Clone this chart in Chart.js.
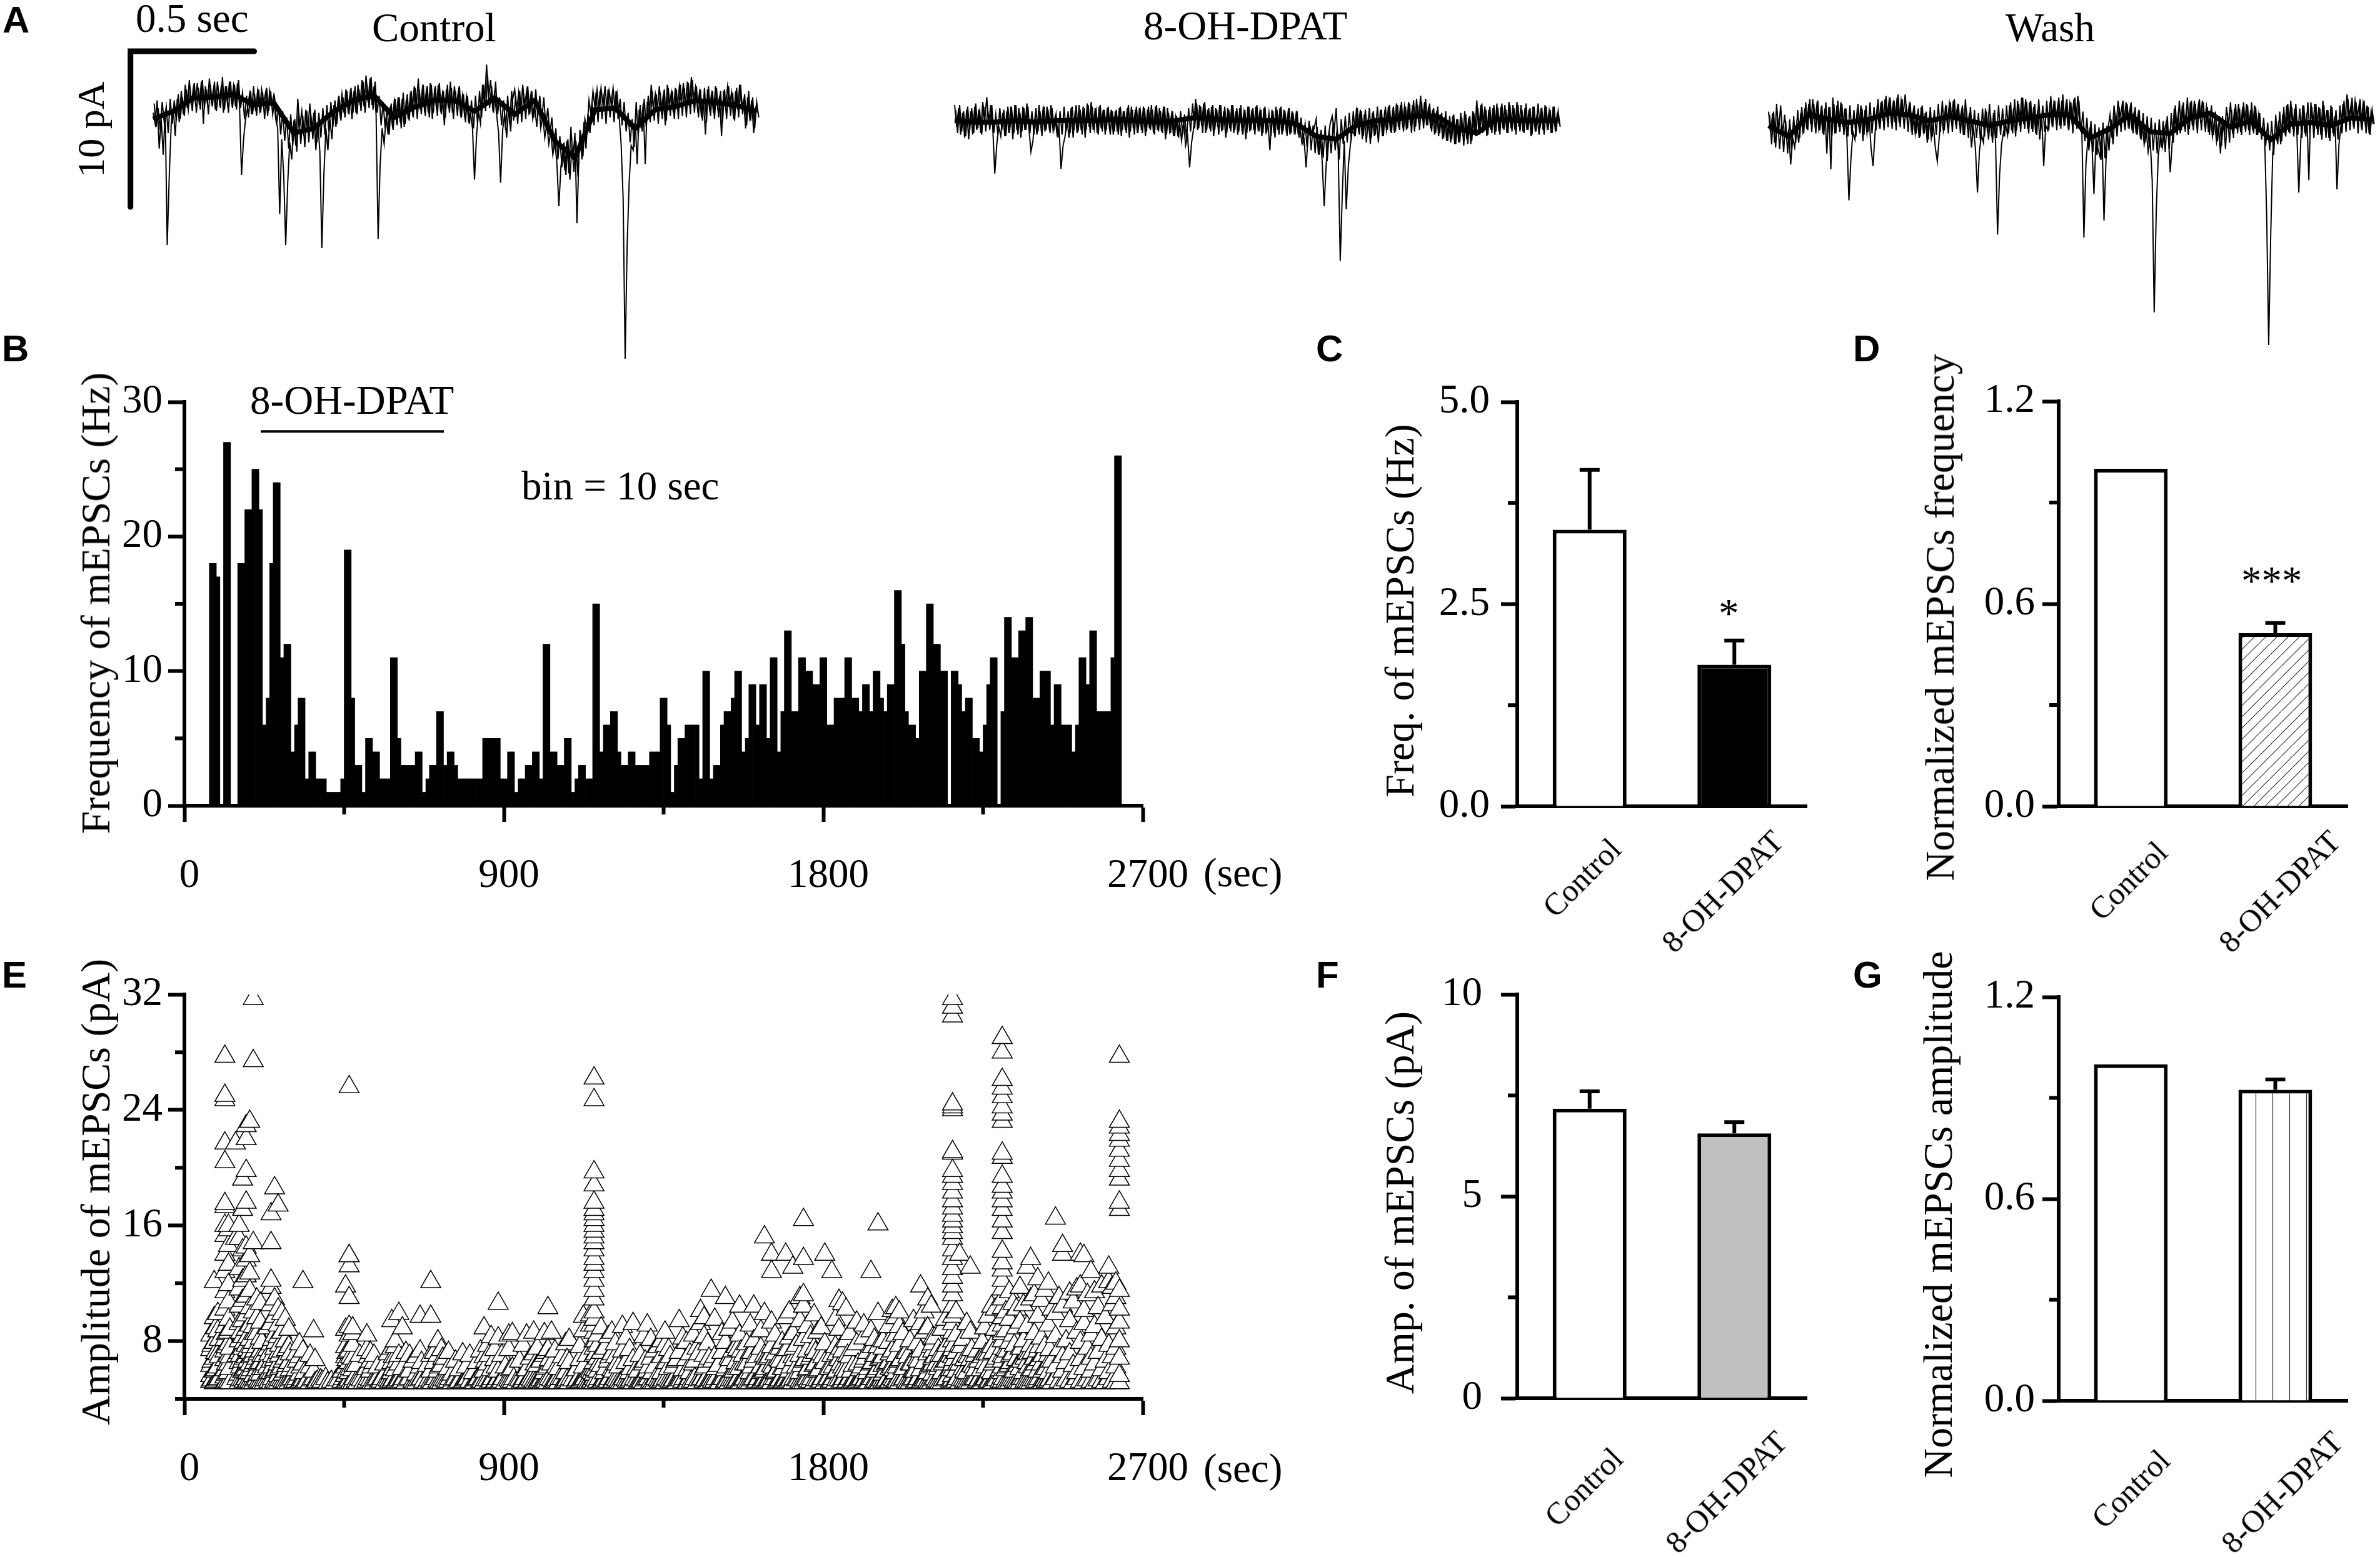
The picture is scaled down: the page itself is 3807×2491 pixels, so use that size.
<!DOCTYPE html>
<html>
<head>
<meta charset="utf-8">
<title>mEPSCs 8-OH-DPAT</title>
<script src="https://cdn.jsdelivr.net/npm/chart.js@4/dist/chart.umd.js"></script>
<style>
html, body { margin: 0; background: #fff; width: 3807px; height: 2491px; overflow: hidden; }
canvas { position: absolute; }
.txt { position: absolute; white-space: nowrap; font-family: "Liberation Serif"; line-height: 1; color: #000; }
</style>
</head>
<body>
<script>
// panel A traces, pA relative to the baseline, one sample every 3.2 px
const controlTrace = [
  -0.5,-1.2,0.3,-2.8,-0.9,-3.2,-0.4,-9.0,-4.6,-1.2,-0.2,-2.0,0.4,-1.1,0.9,-0.6,1.3,-0.2,1.6,0.0,
  1.1,0.2,1.4,0.0,1.5,-1.2,1.2,0.1,1.7,0.2,1.0,-0.3,1.5,0.2,1.3,-0.5,1.2,0.1,1.5,0.2,
  1.2,-0.1,1.4,0.0,-4.5,-2.2,-0.9,-0.2,0.7,-0.6,1.2,-0.4,0.9,-0.3,1.0,0.1,0.8,-0.7,0.9,0.0,
  0.6,-0.9,-1.5,-7.0,-2.2,-4.5,-9.0,-5.0,-2.4,-3.5,-1.0,-2.6,0.4,-1.4,-0.4,-2.0,-0.3,-1.7,0.1,-1.6,
  -0.5,-2.9,-1.2,-3.0,-9.2,-4.5,-1.5,-2.9,-0.9,-2.2,0.0,-1.4,0.2,-0.6,0.7,-0.5,1.0,-0.3,0.7,-0.9,
  0.9,-0.5,1.3,0.0,1.6,-0.1,1.9,0.2,1.7,0.0,1.2,-0.6,-8.6,-3.9,-1.5,-2.5,-0.8,-1.9,-0.1,-1.2,
  0.2,-0.9,0.5,-1.1,0.4,-1.4,0.3,-0.9,0.6,-0.4,1.2,-0.2,1.7,-0.3,1.0,-0.2,0.9,-0.5,1.4,-0.9,
  0.8,-0.1,1.3,-0.2,0.7,-1.3,1.0,-0.2,1.5,-0.5,1.2,0.0,0.9,-0.5,0.6,-0.6,0.5,-1.0,-0.5,-1.5,
  -4.8,-2.0,-0.4,-1.2,1.3,0.0,2.6,0.4,1.6,-0.1,0.8,-0.6,-1.8,-5.0,-1.6,-0.6,-2.1,-0.1,-1.7,0.4,
  1.0,-0.4,0.8,-0.5,1.3,0.0,0.9,-0.4,0.6,-0.9,-0.1,-1.4,0.1,-1.5,-0.7,-2.1,-1.2,-2.5,-1.7,-3.2,
  -2.4,-3.7,-6.5,-4.0,-2.9,-4.2,-2.3,-4.4,-1.4,-3.5,-1.8,-7.6,-3.2,-2.0,-3.3,-0.9,-1.6,0.3,-0.6,0.9,
  -0.2,1.0,-0.3,1.1,0.0,1.2,-0.4,0.9,0.1,1.1,-0.3,0.7,-0.7,-2.5,-6.0,-16.3,-9.0,-5.0,-2.6,-2.9,
  -1.0,-3.8,-0.3,-1.5,0.1,-3.8,0.2,-0.8,1.3,-0.2,0.7,-0.4,1.2,-0.3,0.6,-1.3,1.3,-0.1,0.8,-0.5,
  1.1,-0.2,1.2,0.1,1.4,-0.1,1.5,-0.1,1.8,0.2,1.1,-0.2,0.8,-0.8,0.4,-1.9,1.0,-0.2,0.7,-0.5,
  1.2,-0.1,0.5,-2.0,0.9,-0.1,1.2,0.0,0.8,-0.9,0.9,-0.3,1.3,-0.1,0.3,-1.5,0.5,-0.8,0.3,-1.8,
  -0.2,-0.5
];
const dpatTrace = [
  1.0,-0.4,0.8,-0.9,0.5,-1.1,0.7,-1.2,0.6,-0.9,0.9,-0.6,0.7,-0.8,1.2,0.0,1.5,-0.2,1.0,-0.5,
  -3.4,-1.5,-0.4,-1.0,0.5,-1.0,0.6,-0.8,0.9,-1.2,1.0,-0.6,0.8,-1.1,0.9,-0.6,1.1,-0.5,-2.0,-1.3,
  0.2,-0.9,1.0,-0.4,0.7,-0.7,0.9,-0.3,1.0,-0.6,0.2,-0.9,-0.5,-3.1,-1.6,-1.0,0.0,-1.1,0.8,-1.1,
  0.6,-0.8,1.0,-0.6,0.9,-1.1,1.1,-0.4,1.2,-0.6,0.8,-0.8,0.9,-0.5,0.7,-0.9,0.8,-0.4,0.7,-0.9,
  0.6,-0.7,0.8,-1.0,0.6,-0.6,0.8,-1.1,0.9,-0.5,0.7,-0.8,0.8,-0.6,0.9,-1.0,0.7,-0.5,1.0,-0.8,
  0.9,-0.6,0.8,-0.7,0.9,-1.2,0.8,-0.6,0.4,-1.0,0.2,-0.8,-0.1,-1.3,0.0,-1.6,-1.0,-3.0,-1.4,-0.5,
  1.4,-0.6,1.0,-0.3,1.1,-0.8,0.7,-0.5,0.9,-1.0,0.8,-0.4,1.0,-0.7,0.6,-1.1,0.8,-0.5,1.0,-0.8,
  0.6,-0.9,0.8,-0.5,0.5,-1.2,0.9,-0.7,0.7,-0.6,0.9,-0.4,0.6,-1.0,0.8,-0.7,-0.2,-1.9,0.7,-0.8,
  0.9,-0.6,0.8,-0.9,0.7,-0.5,0.5,-0.9,0.6,-0.6,0.4,-0.8,-0.6,-1.5,-1.2,-3.0,-1.0,-0.4,-0.9,-0.5,
  0.1,-1.9,-1.0,-2.6,-5.5,-2.8,-1.1,-0.2,0.3,-0.6,0.8,-2.0,-9.0,-4.8,-1.3,-5.7,-3.0,-1.6,-0.6,-0.9,
  0.6,-0.5,0.7,-1.2,0.4,-1.4,0.2,-1.5,0.5,-1.0,0.2,-1.4,0.7,-1.0,0.4,-0.6,0.9,-0.7,0.5,-0.8,
  1.1,-0.4,1.0,-0.2,0.9,-0.6,1.2,-0.3,1.0,-0.7,1.4,-0.1,1.6,0.0,1.2,-0.3,0.9,-0.5,0.7,-0.9,
  0.6,-1.0,0.4,-1.2,0.2,-1.3,0.0,-1.4,0.3,-1.5,0.1,-1.4,0.5,-1.0,0.6,-1.2,0.2,-1.5,0.6,-0.8,
  1.3,-0.7,1.0,-0.8,0.9,-1.0,0.7,-0.6,0.8,-0.9,1.1,-0.7,0.9,-0.5,1.0,-0.8,1.2,-0.5,1.0,-0.6,
  1.2,-0.4,1.0,-0.7,0.8,-0.6,0.7,-1.0,0.9,-0.5,0.4,-0.9,0.8,-0.6,1.0,-0.4,0.6,-0.8,0.9,-0.5,
  0.4,-0.2
];
const washTrace = [
  0.5,-0.9,0.4,-1.5,1.0,-0.8,0.9,-1.0,0.3,-1.2,-0.7,-2.9,-1.2,-1.8,-0.4,-1.5,0.4,-0.7,0.7,-0.6,
  1.0,-0.3,1.3,-0.2,0.9,-0.6,0.5,-0.9,0.7,-2.2,0.8,-3.2,1.4,-0.9,0.9,-0.5,1.1,-0.5,0.7,-1.2,
  -5.2,-2.5,-0.8,-1.3,0.4,-0.5,0.9,-1.4,0.6,-0.9,0.2,-1.8,-3.0,-0.9,0.7,-0.3,1.1,-0.1,1.3,0.1,
  1.2,0.0,1.0,-0.2,1.4,-0.2,1.2,0.2,1.6,0.0,0.9,-0.5,0.5,-0.9,0.2,-1.2,0.8,-0.7,0.4,-1.5,
  0.2,-1.2,-0.3,-1.8,-2.7,-1.1,0.3,-0.7,0.7,-0.3,1.0,-0.2,1.2,-0.1,0.8,-0.2,0.5,-1.0,1.3,-0.6,
  0.4,-1.8,-0.5,-1.9,-4.7,-2.0,-1.0,-1.5,0.7,-0.8,1.0,-1.1,0.4,-1.4,-7.4,-3.6,-1.6,-0.8,-0.3,-1.0,
  0.9,-0.7,0.7,-1.1,1.2,-0.4,1.4,-0.3,1.3,-0.6,1.1,-0.6,0.8,-0.9,0.6,-1.3,0.2,-3.0,-0.4,-0.7,
  0.8,-0.2,1.0,0.0,0.9,-0.4,1.2,-0.2,0.9,-0.3,1.0,-0.1,1.3,0.0,1.5,-0.3,-0.9,-7.6,-2.9,-1.2,
  -0.6,-1.6,-4.8,-1.3,-1.9,-2.4,-1.0,-6.5,-2.6,-0.6,0.3,-1.2,0.9,-0.5,1.2,0.1,0.9,-0.2,1.1,-0.3,
  0.7,-0.7,0.5,-0.9,0.3,-1.0,-0.2,-1.6,-0.7,-2.1,-1.3,-3.9,-12.4,-6.0,-2.4,-1.2,-1.8,-0.8,-0.2,-1.0,
  -3.4,-1.4,0.7,-0.7,0.4,-0.9,0.9,-0.4,0.5,-1.0,1.1,-0.4,1.2,-0.2,0.9,0.0,1.2,-0.2,0.8,-0.8,
  0.3,-1.1,-0.1,-1.4,-0.3,-2.2,0.2,-1.0,0.8,-0.5,1.1,-0.9,0.7,-0.6,1.0,-0.8,0.8,-0.3,1.0,-0.7,
  0.6,-0.7,0.9,-1.0,0.3,-0.8,-0.5,-1.2,-6.2,-14.5,-7.5,-2.2,-0.9,-1.3,-0.1,-1.6,0.3,-0.7,0.9,-0.8,
  1.2,-0.6,0.7,-0.7,-4.7,-1.3,0.9,-0.9,0.4,-3.9,1.1,-0.4,1.0,-0.6,0.8,-1.0,1.2,-0.4,0.6,-1.2,
  0.9,-0.9,0.2,-4.5,-1.6,-0.4,1.0,-0.2,1.6,0.1,0.9,-0.2,1.2,0.1,0.9,-0.3,1.0,-0.2,0.9,-0.9,
  0.5,-0.3
];
// the noise band between those samples, half a sample later
const controlFuzz = [
  0.1,-1.4,-0.2,-1.6,0.2,-1.1,-0.1,-1.8,0.4,-1.2,0.3,-1.0,0.7,-0.9,0.5,-0.7,1.0,-0.3,0.9,-0.4,
  1.4,-0.5,1.1,-0.3,1.6,-0.2,1.0,-0.6,1.3,-0.1,1.5,-0.4,0.9,-0.2,1.8,-0.3,1.2,-0.5,1.5,-0.2,
  1.3,-0.3,1.6,-0.2,0.8,-0.9,0.6,-0.8,0.9,-0.6,0.7,-0.7,1.0,-0.5,0.8,-0.9,1.1,-0.4,0.9,-0.6,
  0.4,-1.2,-0.1,-1.9,-0.4,-2.3,-0.8,-2.8,-0.6,-2.6,-0.9,-3.0,-0.5,-2.5,-0.7,-2.7,-0.4,-2.4,-0.6,-2.2,
  -0.3,-2.4,-0.5,-2.1,-0.2,-1.9,0.0,-1.7,0.2,-1.4,0.3,-1.2,0.6,-1.0,0.5,-0.8,0.9,-0.6,1.1,-0.5,
  1.2,-0.6,1.0,-0.4,1.5,-0.5,1.3,-0.2,1.8,-0.3,1.5,-0.5,0.6,-1.3,0.2,-1.5,-0.1,-1.9,0.1,-1.6,
  0.4,-1.3,0.5,-1.5,0.8,-1.2,0.7,-1.0,0.9,-0.8,1.1,-0.9,1.0,-0.6,1.3,-0.7,1.2,-0.8,1.3,-0.5,
  1.2,-0.7,1.4,-0.6,0.9,-0.8,1.3,-0.5,1.1,-0.9,0.9,-0.7,1.2,-0.8,0.7,-1.1,0.6,-1.2,0.3,-1.5,
  0.6,-1.2,0.9,-0.8,1.3,-0.4,1.9,-0.2,1.2,-0.5,1.5,-0.6,0.5,-1.3,0.3,-1.6,0.6,-1.2,0.9,-1.0,
  0.6,-1.2,0.9,-1.1,0.7,-0.9,1.2,-0.6,0.9,-0.8,1.0,-0.7,0.6,-1.0,0.5,-1.3,-0.2,-1.9,-0.8,-2.5,
  -1.5,-3.5,-2.0,-4.0,-2.4,-4.5,-2.2,-4.8,-2.6,-4.3,-2.3,-4.6,-1.6,-3.5,-1.1,-2.8,-0.6,-1.8,0.2,-1.3,
  0.8,-1.1,0.9,-0.9,0.7,-1.2,1.0,-0.8,0.6,-1.1,0.9,-0.9,0.4,-1.3,0.2,-1.7,-0.5,-2.4,-0.9,-2.7,
  0.2,-2.0,0.0,-1.7,0.4,-1.4,0.6,-1.1,0.9,-1.0,0.7,-1.2,0.8,-0.9,1.0,-1.0,1.1,-0.7,0.9,-0.9,
  1.0,-0.9,1.3,-0.7,1.1,-0.8,1.4,-0.6,1.6,-0.5,1.2,-0.8,1.0,-1.0,1.1,-1.1,1.2,-0.7,0.9,-0.9,
  1.1,-0.8,0.9,-1.1,1.0,-0.9,1.2,-0.7,0.8,-1.0,1.1,-0.8,1.3,-0.6,0.7,-1.3,0.9,-1.0,0.5,-1.5,
  0.2,-0.8
];
const dpatFuzz = [
  0.7,-0.8,1.0,-0.7,0.6,-1.0,0.9,-0.6,0.8,-0.8,1.1,-0.5,0.6,-0.9,0.9,-0.7,0.7,-0.6,1.0,-0.8,
  0.4,-0.9,0.8,-0.6,0.7,-1.0,0.9,-0.5,0.6,-0.8,1.0,-0.9,0.5,-0.7,0.8,-0.6,0.9,-0.8,0.6,-0.9,
  0.8,-0.7,0.6,-1.0,0.9,-0.6,0.7,-0.8,0.8,-0.5,0.4,-1.1,0.6,-0.9,0.9,-0.7,0.6,-0.8,0.9,-0.6,
  1.0,-0.7,0.7,-0.9,0.8,-0.6,1.0,-0.8,0.9,-0.5,0.6,-0.9,1.0,-0.7,0.7,-0.6,0.9,-0.9,0.6,-0.7,
  0.7,-0.9,0.9,-0.6,0.6,-0.8,1.0,-0.7,0.7,-0.9,0.9,-0.5,0.6,-0.8,0.8,-0.7,0.9,-0.6,0.7,-0.9,
  1.0,-0.7,0.6,-0.8,0.9,-0.9,0.5,-0.8,0.6,-1.0,0.3,-1.1,0.6,-0.9,0.4,-1.2,0.8,-0.7,1.1,-0.5,
  1.1,-0.5,0.9,-0.8,1.2,-0.6,0.8,-0.7,1.0,-0.6,0.7,-0.9,1.0,-0.6,0.9,-0.8,0.7,-0.7,1.0,-0.6,
  0.8,-0.7,1.0,-0.9,0.7,-0.8,0.9,-0.6,0.8,-0.9,1.0,-0.7,0.7,-0.8,0.9,-0.6,0.5,-1.0,0.6,-1.1,
  0.7,-0.9,0.9,-0.7,0.6,-1.0,0.8,-0.8,0.5,-0.9,0.6,-1.1,0.2,-1.3,-0.2,-1.7,0.0,-1.9,-0.3,-2.1,
  -0.4,-2.2,-0.6,-2.4,-0.3,-2.6,-0.7,-2.1,-0.1,-1.9,-0.5,-2.5,0.1,-1.5,0.3,-1.4,0.5,-1.2,0.6,-1.0,
  0.8,-0.9,0.6,-1.0,0.7,-0.8,0.8,-1.1,0.6,-0.9,0.9,-0.7,0.7,-1.0,0.9,-0.6,1.0,-0.8,0.9,-0.7,
  1.0,-0.6,1.2,-0.7,0.9,-0.5,1.1,-0.8,1.3,-0.4,1.0,-0.6,1.2,-0.5,1.4,-0.3,1.1,-0.7,0.8,-0.8,
  0.9,-0.8,0.5,-1.1,0.6,-1.3,0.3,-1.2,0.4,-1.5,0.1,-1.4,0.2,-1.6,0.4,-1.5,0.3,-1.3,0.5,-1.0,
  0.8,-0.9,1.1,-0.7,0.7,-0.9,0.9,-0.8,1.0,-0.7,0.8,-0.9,1.1,-0.6,0.7,-0.8,1.0,-0.7,0.8,-0.9,
  1.0,-0.7,0.7,-0.8,1.1,-0.6,0.8,-0.9,0.9,-0.7,1.1,-0.5,0.6,-0.9,0.9,-0.6,0.7,-0.8,0.9,-0.7,
  0.6,-0.4
];
const washFuzz = [
  0.3,-1.6,0.5,-1.8,0.1,-1.9,-0.2,-2.1,-0.1,-2.2,0.0,-1.9,0.2,-1.5,0.6,-1.2,0.8,-0.9,1.1,-0.7,
  1.3,-0.8,1.0,-0.9,1.2,-0.7,0.9,-1.0,1.1,-0.8,0.8,-1.1,1.0,-0.9,1.2,-0.8,1.0,-1.0,0.7,-1.1,
  0.9,-1.0,0.6,-1.1,1.0,-0.9,0.7,-1.0,0.9,-0.8,1.1,-0.9,0.8,-0.7,1.3,-0.6,1.2,-0.7,1.5,-0.5,
  1.4,-0.6,1.2,-0.7,1.6,-0.5,1.3,-0.6,1.0,-0.8,1.1,-1.0,0.9,-0.9,0.7,-1.1,0.9,-0.9,0.5,-1.3,
  0.8,-1.1,0.6,-1.0,1.0,-0.8,1.2,-0.7,0.9,-0.9,1.1,-0.8,1.3,-0.6,1.0,-0.9,0.9,-1.0,0.6,-1.2,
  0.8,-1.0,0.6,-1.2,0.4,-1.4,0.7,-1.1,0.5,-1.3,0.3,-1.5,0.6,-1.2,0.9,-1.0,0.7,-1.1,0.9,-0.9,
  1.1,-0.9,1.3,-0.7,1.0,-0.8,1.4,-0.6,1.1,-0.9,1.2,-0.8,1.0,-1.0,1.3,-0.7,0.9,-0.8,1.2,-0.7,
  1.5,-0.5,1.2,-0.7,1.4,-0.6,1.6,-0.4,1.3,-0.7,1.1,-0.9,1.4,-0.6,1.2,-0.8,0.5,-1.4,0.1,-2.0,
  -0.1,-2.1,-0.3,-2.3,-0.5,-2.6,-0.2,-2.5,-0.4,-2.0,0.0,-1.6,0.4,-1.1,0.8,-0.8,1.2,-0.7,1.0,-0.6,
  1.1,-0.9,0.8,-1.0,0.6,-1.3,0.4,-1.5,0.2,-1.8,0.1,-2.0,-0.2,-2.2,0.0,-1.8,-0.1,-2.1,0.2,-1.9,
  0.4,-1.5,0.9,-1.0,1.2,-0.7,1.1,-0.8,1.4,-0.6,1.2,-0.7,1.0,-0.9,1.3,-0.7,1.1,-0.8,0.8,-1.0,
  0.9,-1.0,0.5,-1.4,0.2,-1.7,0.0,-1.9,0.4,-1.5,0.6,-1.2,1.0,-0.9,0.7,-1.0,1.1,-0.8,0.9,-1.0,
  1.1,-0.9,0.8,-1.0,0.4,-1.3,0.1,-1.7,-0.2,-2.0,-0.1,-2.3,0.3,-1.6,0.5,-1.4,0.8,-1.1,1.0,-0.9,
  0.8,-1.1,1.0,-1.0,0.7,-1.2,0.9,-1.1,1.1,-0.9,0.8,-1.2,1.0,-1.0,0.7,-1.3,0.9,-1.2,0.6,-1.4,
  0.8,-1.1,0.6,-1.3,0.9,-0.9,1.2,-0.8,1.3,-0.7,1.4,-0.6,1.1,-0.9,1.3,-0.7,1.2,-0.9,0.8,-1.0,
  0.6,-0.3
];
// solid core of each trace, pA, read every 10 samples
const controlCore = [-0.9,-0.4,0.45,0.5,0.7,0,0.15,-1.8,-1.5,-0.4,0.3,0.6,-0.8,-0.15,0.3,0.3,-0.4,0.45,-0.6,0.3,-2.3,-3.4,-0.3,-0.2,-1.5,-0.3,-0.1,0.3,0.15,0,-0.4];
const dpatCore = [0,-0.1,-0.1,0,-0.1,0,0,0,0.1,0,-0.1,0,0.2,0.1,0,0,0,-0.2,-1,-1.2,-0.3,0,0.1,0.3,0.3,-0.5,-0.8,0.1,0,0,0];
const washCore = [-0.4,-1.1,0.3,0,-0.2,0,0.4,0.3,-0.1,0.2,-0.1,-0.4,-0.1,0.1,0.3,0.3,-1.2,-0.6,0.3,-0.8,-0.9,0.1,0.4,-0.5,-0.1,-1.3,-0.3,-0.2,-0.4,0.1,0];
// scale bar of the control trace, in samples and pA
const scaleBarX = [-11.3, -11.3, 50.3];
const scaleBarY = [-6.55, 3.45, 3.45];

// panel B, one value per 10 sec bin starting at 0 sec
const freqPerBin = [
  0,0,0,0,0,0,0,18,18,17,0,27,27,0,0,18,18,22,22,25,25,22,6,8,18,24,24,11,12,12,
  4,6,8,8,2,4,4,2,2,2,1,1,1,1,2,19,19,8,3,3,1,5,5,4,4,2,2,2,11,11,
  5,3,3,3,3,4,4,1,2,3,3,7,7,3,4,4,3,2,2,2,2,2,2,2,5,5,5,5,5,2,
  2,4,4,1,2,2,3,3,4,4,2,12,12,4,4,3,3,5,5,1,2,3,3,2,2,15,15,4,6,6,
  7,7,4,3,3,4,4,3,3,3,3,4,4,4,8,8,6,1,3,5,5,6,6,6,6,2,10,10,2,3,
  3,6,7,7,8,10,10,4,5,9,9,6,9,9,5,11,11,4,7,13,13,7,7,11,11,10,10,9,9,11,
  11,6,6,8,8,8,11,11,8,8,7,9,9,7,10,10,8,7,9,9,16,16,12,7,6,6,5,10,10,15,
  15,12,12,10,10,0,10,10,9,7,8,8,5,5,4,6,9,11,11,0,7,14,14,11,11,13,13,14,14,8,
  8,10,10,10,6,9,9,6,6,6,4,6,11,11,9,13,13,7,7,7,7,11,26,26
];
const drugBarT = [215, 731];
const drugBarY = [27.8, 27.8];
const timeTicks = ['0', '900', '1800', '2700'];

// panel C, D
const barLabels = ['Control', '8-OH-DPAT'];
const freqMeans = [3.42, 1.75];
const freqErrs = [0.74, 0.30];
const freqTicks = ['0.0', '2.5', '5.0'];
const normFreqMeans = [1.0, 0.513];
const normFreqErrs = [0, 0.03];
const normTicks = ['0.0', '0.6', '1.2'];

// panel E, amplitudes (pA) of the events seen in each 10 sec bin
const ampsPerBin = [
  [],[],[],[],[],[],[],
  [5.2,5.6,6.3,7.4,8.4],
  [5.1,5.9,6.8,7.9,9.6,12.1],
  [5.3,6.2,7.1,8.7,9.9],
  [],
  [5.1,5.5,6.0,6.7,7.3,8.1,9.0,10.2,11.4,12.8,14.0,15.3,16.0,17.3,17.5,20.4,21.7,24.7,25.0,27.7],
  [5.2,5.8,6.4,7.0,7.8,8.6,9.5,10.7,11.9,13.3,14.6,15.7,16.0],
  [],
  [21.7,15.1],
  [5.1,5.7,6.5,7.2,8.0,9.2,10.4,11.6,13.0,15.1,16.0],
  [5.3,5.9,6.6,7.5,8.3,9.4,10.8,12.2,14.3,17.1,19.2],
  [5.1,5.4,6.1,6.9,7.7,8.8,9.8,11.1,12.5,13.6,14.5,17.6,19.8,22.0,22.9],
  [5.2,5.8,6.4,7.2,8.1,9.1,10.3,11.5,12.7,13.9,23.2],
  [5.1,5.6,6.3,7.0,7.9,9.0,10.0,14.8,27.4,31.7],
  [5.4,6.0,6.8,7.6,8.5,9.6,10.9],
  [5.2,5.7,6.5,7.3,8.2,9.3,10.6],
  [5.1,6.1,7.0],
  [5.3,6.2,7.4,8.9],
  [5.1,5.8,6.6,7.8,9.2,10.5,11.7,12.2,14.8,16.8],
  [5.2,5.9,6.7,7.5,8.4,9.7,10.9,18.6],
  [5.1,5.6,6.4,7.2,8.3,9.1,10.2,17.4],
  [5.3,6.2,7.3,8.6,9.9],
  [5.2,5.9,6.8,8.0,9.5],
  [5.1,6.5,7.6,8.8],
  [5.4,6.3],[5.2,6.0,7.1],[5.1,5.7,6.9,7.8],[5.3,6.4,7.3,12.1],[5.2],[5.1,6.2,7.0],[5.4,5.9,8.7],[5.2],[5.3],[],
  [5.1],[5.2],[5.1],[5.3],[5.2,5.9],
  [5.1,5.6,6.2,6.9,7.6,8.8,11.8],
  [5.3,5.8,6.5,7.3,8.4,9.0,11.0,13.2,13.9,13.9,25.6],
  [5.1,6.0,6.8,7.7,8.5,8.9],
  [5.2,6.3],[5.4,7.0],[5.1],[5.2,6.1,7.4,8.4],[5.3,5.9,6.6,7.2],[5.1,6.5,7.0],[5.4,6.2],[5.2],[5.1,6.4],[5.3,7.1],
  [5.2,5.8,6.5,7.5,9.4],[5.1,6.0,6.9,7.6,8.0],[5.3,6.4,7.0,9.9],[5.2,6.1,8.9],[5.1,7.2],[5.4,5.9,7.0],[5.2,6.6],[5.1,5.7,6.9],[5.3,6.2,7.3,9.7],[5.2],
  [5.1,6.3],[5.2,5.9,7.0,9.7,12.1],[5.4,6.5,7.2],[5.2,5.9,7.0,8.0],[5.1,6.3,7.4],[5.3,6.8],[5.2,6.1,7.2],[5.1,5.7],[5.4,6.6],[5.2,6.0],
  [5.1,7.1],[5.3,6.2],[5.2,7.0],[5.1,5.8],[5.3,6.5],[5.2,7.3],[5.1,5.9,6.9,8.9],[5.3,6.4,7.7],[5.2,6.0,8.3],[5.1,6.7,7.4],
  [5.4,5.9,8.2,10.6],[5.2,7.0],[5.1,6.2],[5.3,7.4,8.4],[5.2,6.1,8.5],[5.1],[5.3,6.6],[5.2,7.7],[5.1,6.0,8.4],[5.4,6.8],
  [5.2,7.1,8.6],[5.1,6.3,7.5],[5.3,6.6],[5.2,5.8,7.0,8.5],[5.1,6.2,7.4,10.3],[5.3,6.4,8.6],[5.2,7.3],[5.1,6.1],[5.4,6.9],[5.2,5.8,7.8],
  [5.1,6.5,8.1],[5.3],[5.2,6.0],[5.1,6.7,7.6],[5.3,6.2,8.7,9.7],[5.2,7.0],[5.1,5.9,9.1,9.8],
  [5.1,5.4,5.7,6.1,6.5,7.0,7.5,8.0,8.6,9.1,9.5,10.0,10.9,11.5,12.2,12.8,13.3,13.7,14.3,14.8,15.2,15.6,16.0,16.4,16.8,17.1,17.6,18.8,19.7,24.7,26.2],
  [5.2,5.9,6.8,7.7,8.4],[5.1,6.3,7.2,8.9],[5.3,5.8,7.5],[5.2,6.6,8.3],[5.1,6.0,7.1,8.6],[5.4,6.9,7.8],[5.2,6.2],[5.1,7.3,9.0],[5.3,6.5,8.2],[5.2,5.8,7.4],
  [5.1,6.7,9.2],[5.3,6.1],[5.2,7.0],[5.1,6.4,8.3],[5.4,5.9,9.1],[5.2,6.8,8.1],[5.1,6.2,7.3],[5.3,7.6],[5.2,5.8,6.9,8.0],[5.1,6.5,7.7,8.6],
  [5.3,6.1,7.4],[5.2],[5.1,6.6],[5.3,7.2,9.4],[5.2,6.0,8.2],[5.1,6.7,7.9],[5.4,5.8,7.1],[5.2,6.4,8.4],[5.1,7.5],[5.3,9.2,10.1],
  [5.2,6.1,7.0,8.3,9.6],[5.1,6.6,7.8],[5.3,11.5],[5.2,6.9,9.5],[5.1,6.3],[5.4,7.2,8.5],[5.2,6.0,7.9,11.0],[5.1,6.8,8.8],[5.3,5.9,7.3,9.3],[5.2,6.5,7.6],
  [5.1,6.1,8.4,10.4],[5.3,7.0],[5.2,6.4,7.8],[5.1,5.8,7.2,9.1],[5.4,6.6,8.0,10.4],[5.2,6.9],[5.1,6.2,7.5,8.7],[5.3,5.9,7.0,9.9,15.2],[5.2,6.8],[5.1,6.3,7.6,9.3,12.8,14.0],
  [5.4,5.8,7.1,8.4],[5.2,6.7],[5.1,6.1,7.9],[5.3,6.5,7.4,9.6,14.0],[5.2,5.9,8.2,10.0],[5.1,6.9,8.5,13.1],[5.3,6.2,7.7],[5.2,5.8,7.0,9.4,11.0],[5.1,6.6,8.1,10.4,11.2,13.7,16.4],[5.4,6.0,7.3,9.0],
  [5.2,6.8,8.3],[5.1,6.3,7.5,9.8],[5.3,5.9,8.6],[5.2,7.1,8.9],[5.1,6.5,7.8,14.0],[5.4,6.1],[5.2,7.0,12.8],[5.1,5.8,7.6,9.5],[5.3,6.7,8.8,10.8],[5.2,6.2,7.3,10.6],
  [5.1,5.9,8.0,10.2],[5.4,6.9,8.5],[5.2,6.3,7.4],[5.1,7.8,9.3],[5.3,6.0],[5.2,6.6,8.2,9.1],[5.1,5.8,7.2],[5.4,6.4,8.7,12.8],[5.2,7.0,8.1],[5.1,6.1,7.6,9.9,16.1],
  [5.3,6.8],[5.2,5.9],[5.1,6.5,7.9,9.0],[5.4,6.2,7.3,10.1],[5.2,5.8,7.0,8.4,9.6,10.3],[5.1,6.6,7.7,9.0,10.0],[5.3,6.1,8.5],[5.2,7.2],[5.1,6.4,8.0],[5.4,5.9,9.4],
  [5.2,6.7,7.8],[5.1,6.0,7.3,9.2,11.8],[5.3,6.5,8.6,10.0],[5.2,5.8,7.1,8.9,10.9],[5.1,6.3,7.6,10.4],[5.4,6.9,8.2],[5.2,6.1,7.4],[5.1,5.8,7.0,8.8],[5.3,6.6,9.5],[],
  [5.1,5.3,5.6,6.0,6.4,6.9,7.4,8.0,8.6,9.2,9.7,10.4,11.2,11.8,12.4,13.0,13.7,14.3,15.1,15.5,15.9,16.3,16.7,17.2,17.7,18.3,18.9,19.4,19.8,21.0,21.1,24.0,24.2,24.4,30.5,31.1,31.7],
  [5.2,5.9,7.2,8.4,10.0],[5.1,6.4,7.7,14.0],[5.3,6.1,8.1],[5.2,5.8,7.0,9.2],[5.1,6.7,8.6,13.1],[5.4,6.2],[5.2,7.3],[5.1,6.0],[5.3,6.5,8.9],
  [5.2,7.1,9.7],[5.1,5.8,7.6,10.4],[5.3,6.6,8.8,10.2],[],
  [5.1,5.2,5.5,5.8,6.2,6.6,7.0,7.5,8.0,8.5,9.1,9.6,10.3,10.9,11.6,12.2,12.9,13.4,14.2,15.5,16.3,17.1,17.7,18.3,18.7,19.4,20.7,21.0,23.2,23.7,24.2,24.9,25.5,26.1,28.0,29.0],
  [5.2,6.0,7.4,8.7,10.0],[5.1,6.3,7.9,9.5,11.4],[5.3,5.9,7.1,8.4,10.6],[5.2,6.7,8.9,10.2],[5.1,6.1,7.5,9.3,11.7],[5.4,5.8,8.0,10.5],[5.2,6.5,7.2,9.0,13.1],[5.1,6.0,7.7,10.9,13.7],[5.3,6.8,8.5,11.2],
  [5.2,5.9,7.3,9.7,12.3],[5.1,6.4,8.2,10.8],[5.3,6.1,7.6,11.5],[5.2,5.8,7.0,9.1,12.0],[5.1,6.6,10.2],[5.4,6.2,8.3,9.9,16.5],[5.2,7.4,11.0],[5.1,5.9,6.9,10.4,14.0,14.6],[5.3,6.5,8.0],[5.2,7.1,9.4,11.3],
  [5.1,6.3,10.7],[5.4,5.8,8.6,11.6],[5.2,6.7,7.9,11.8,14.0],[5.1,6.1,9.2,10.1,13.9],[5.3,7.5,11.2],[5.2,5.9,6.8,8.4,12.8],[5.1,6.4,9.0,11.4],[5.3,7.2,10.3],[5.2,6.0,8.1,11.8],[5.1,6.6,9.6],
  [5.4,5.8,7.7,12.1,13.1],[5.2,6.9,10.5,11.7],[5.1,6.2,7.5,8.9,11.0,12.0],
  [5.1,5.6,6.8,8.0,9.3,10.2,11.5,17.1,17.6,19.2,19.8,20.5,21.2,21.9,22.3,22.8,23.2,27.7]
];
// second events of the same bins, in the dense low band
const lateAmpsPerBin = [
  [],[],[],[],[],[],[],[5.3,6.6,7.7],[5.2,6.0,7.2,8.9],[5.4,6.9,8.1],
  [],[5.2,5.7,6.4,7.6,8.5],[5.1,6.1,6.9,7.5,8.8],[],[5.4,7.0],[5.3,6.2,7.0,8.6],[5.2,6.0,6.8,7.9],[5.2,5.8,6.6,7.4,8.3],[5.1,6.0,6.9,7.6],[5.3,6.5,7.3,8.5],
  [5.2,5.7,6.4,7.1],[5.1,6.1,7.0,7.9],[5.3,6.4],[5.2,5.8,7.1],[5.4,6.2,7.0,8.1],[5.1,6.0,6.9,7.9],[5.3,6.1,7.0,7.7],[5.2,5.7,6.6],[5.1,6.3,7.4],[5.3,6.0,7.1],
  [5.2],[5.4,6.6],[5.2,6.2],[5.1,5.8],[],[5.3],[5.1,6.7],[],[5.2],[5.4],
  [],[],[5.3],[],[5.4],[5.2,5.9,6.7,7.2],[5.1,6.1,6.9],[5.4,6.3],[5.1],[5.3],
  [],[5.4,6.9],[5.1,6.2],[5.3],[5.1],[5.4],[],[5.2],[5.3,6.1,6.9],[5.2,6.6],
  [5.1],[5.4],[5.3],[],[5.1],[5.3],[5.4,6.5],[],[5.3],[5.1],
  [5.4],[5.1,6.2],[5.3,6.8],[5.2],[5.4],[5.3],[5.1],[],[5.2],[5.4],
  [],[5.1],[5.4],[5.2],[5.3,6.6],[5.1,7.0],[5.4],[5.2,6.2],[5.1],[5.4],
  [],[5.2,6.0],[5.4],[],[5.1],[5.4],[5.2],[5.3],[5.1,6.4],[5.2],
  [5.1],[5.2,6.1,7.2],[5.4,6.7],[5.1],[5.3,6.2],[5.4],[5.1],[5.3,6.7],[5.4],[],
  [5.3],[5.2],[5.4],[5.1],[5.2,5.8],[5.3,6.0,7.1,8.0],[5.4,6.4],[5.2],[5.1,6.1],[5.4,6.9],
  [5.2,5.9],[5.3,6.4],[5.1],[5.4],[5.2],[5.3,6.1],[5.4],[5.1,5.9],[5.2],[5.3,6.6],
  [5.4,6.2],[5.1,5.8],[5.4],[5.2],[5.3],[5.4,6.5],[5.2,6.9],[5.3,6.2],[5.1,6.7],[5.3],
  [5.4],[5.1,6.0],[5.2],[5.4,6.6],[5.3,7.1],[5.4],[5.3,6.2],[5.1,6.8],[5.2,6.6],[5.4,6.1],
  [5.1],[5.4],[5.2,6.2],[5.3,6.7],[5.2,5.9],[5.3,6.1,7.4],[5.1,7.3],[5.4,6.4],[5.1],[5.3,6.2,7.2],
  [5.1,6.9],[5.4],[5.2,5.8],[5.1,6.1,6.8],[5.3,6.9],[5.4,6.2],[5.1,5.9],[5.3,6.6,7.5],[5.2,6.1],[5.1,7.4],
  [5.3,6.2],[5.4,6.7,7.5],[5.3],[5.1,6.3],[5.3,6.7],[5.2,6.1],[5.4,7.0],[5.3,6.4,7.2],[5.1,6.0],[5.4,6.9],
  [5.3],[5.1,6.1],[5.4,6.2],[5.3,5.9,7.1],[5.1,6.4,7.5],[5.4,6.0],[5.2,7.0],[5.1,5.9],[5.3],[5.2,6.4],
  [5.4,6.2],[5.3,6.8],[5.1,6.1],[5.4,6.5,7.6],[5.2,5.9,7.0],[5.1,6.7],[5.2,5.7,6.3,6.9,7.5,8.0],[5.3,6.4],[5.2,6.1,7.1],[5.3,6.0],
  [5.2,6.2],[5.3,6.7],[5.4,6.1],[5.1,6.9],[5.3,6.4],[5.1,5.9],[5.4,6.6],[5.2],[5.3],[5.1,6.2],
  [5.3,5.7,6.4,6.8,7.3,7.8,8.2],[5.2,6.4],[5.1,6.3,7.0],[5.3,6.4],[5.4,6.6,7.7],[5.2,6.0,7.0],[5.1,6.7,7.7],[5.4,6.4],[5.3,6.8,7.6],[5.2,5.9,6.7],
  [5.1,6.9],[5.3,6.3,7.4],[5.4,6.0,7.0],[5.3,6.6],[5.1,6.9,7.9],[5.4,6.2,7.1],[5.2,5.9],[5.1,6.4,7.2],[5.3,6.8],[5.2,6.0],
  [5.4,6.9],[5.1,6.2,7.3],[5.3,6.5,7.0],[5.2,5.9,7.7],[5.1,6.3],[5.4,6.6,7.5],[5.2,6.8],[5.1,6.2,7.1],[5.3,6.0,7.2],[5.2,6.4],
  [5.4,6.7,7.6],[5.1,5.9,7.0],[5.2,6.1],[5.3,6.6,7.4]
];

// panel F, G
const ampMeans = [7.17, 6.56];
const ampErrs = [0.43, 0.28];
const ampTicks = ['0', '5', '10'];
const normAmpMeans = [1.0, 0.924];
const normAmpErrs = [0, 0.031];

Chart.defaults.animation = false;
Chart.defaults.responsive = false;
Chart.defaults.font.family = '"Liberation Serif"';
Chart.defaults.font.size = 65;
Chart.defaults.color = '#000';
Chart.defaults.plugins.legend.display = false;
Chart.defaults.plugins.tooltip.enabled = false;
Chart.defaults.layout.autoPadding = false;

const ink = '#000';
const axisWidth = 6;

function addCanvas(left, top, width, height) {
    const c = document.createElement('canvas');
    c.width = width;
    c.height = height;
    c.style.left = left + 'px';
    c.style.top = top + 'px';
    document.body.appendChild(c);
    return c;
}

// text placed by its baseline, or by its centre when rotated
function addText(str, x, y, opts) {
    opts = opts || {};
    const size = opts.size || 65;
    const d = document.createElement('div');
    d.className = 'txt';
    d.textContent = str;
    d.style.fontSize = size + 'px';
    if (opts.bold) {
        d.style.fontFamily = '"Liberation Sans"';
        d.style.fontWeight = 'bold';
    }
    d.style.left = x + 'px';
    if (opts.rotate) {
        d.style.top = y + 'px';
        d.style.transform = 'translate(-50%,-50%) rotate(' + opts.rotate + 'deg)';
    } else {
        d.style.top = (y - 0.8375 * size) + 'px';
    }
    document.body.appendChild(d);
}

const minorTicks = {
    id: 'minorTicks',
    afterDraw(chart, args, opts) {
        const ctx = chart.ctx;
        ctx.save();
        ctx.strokeStyle = ink;
        ctx.lineWidth = axisWidth;
        (opts.y || []).forEach(v => {
            const s = chart.scales.y;
            const py = s.getPixelForValue(v);
            ctx.beginPath();
            ctx.moveTo(s.right, py);
            ctx.lineTo(s.right - opts.yLen, py);
            ctx.stroke();
        });
        (opts.x || []).forEach(v => {
            const s = chart.scales.x;
            const px = s.getPixelForValue(v);
            ctx.beginPath();
            ctx.moveTo(px, s.top);
            ctx.lineTo(px, s.top + opts.xLen);
            ctx.stroke();
        });
        ctx.restore();
    }
};

const errorBars = {
    id: 'errorBars',
    afterDatasetsDraw(chart, args, opts) {
        const ctx = chart.ctx;
        const y = chart.scales.y;
        const bars = chart.getDatasetMeta(0).data;
        ctx.save();
        ctx.strokeStyle = ink;
        ctx.lineWidth = axisWidth;
        opts.errs.forEach((err, i) => {
            if (!err) return;
            const v = chart.data.datasets[0].data[i];
            const top = y.getPixelForValue(v + err);
            ctx.beginPath();
            ctx.moveTo(bars[i].x, y.getPixelForValue(v));
            ctx.lineTo(bars[i].x, top);
            ctx.moveTo(bars[i].x - 16, top);
            ctx.lineTo(bars[i].x + 16, top);
            ctx.stroke();
        });
        ctx.restore();
    }
};

function yAxis(m, min, max, step, tickLen, pad, labels) {
    return {
        type: 'linear', min: min, max: max,
        afterFit(s) { s.width = m.left; },
        border: { width: axisWidth, color: ink },
        grid: { drawOnChartArea: false, tickLength: tickLen, tickWidth: axisWidth, tickColor: ink },
        ticks: {
            stepSize: step, padding: pad, includeBounds: false,
            callback: labels ? (v, i) => labels[i] : undefined
        }
    };
}

function timeAxis(m) {
    return {
        type: 'linear', min: 0, max: 2700, offset: false,
        afterFit(s) { s.height = m.bottom; },
        border: { width: axisWidth, color: ink },
        grid: { offset: false, drawOnChartArea: false, tickLength: 26, tickWidth: axisWidth, tickColor: ink },
        ticks: { stepSize: 900, padding: 48, labelOffset: 8, autoSkip: false, maxRotation: 0, callback: (v, i) => timeTicks[i] }
    };
}

function hatchPattern(kind) {
    const c = document.createElement('canvas');
    const w = kind === 'diagonal' ? 18 : 27;
    c.width = w;
    c.height = w;
    const g = c.getContext('2d');
    g.fillStyle = '#fff';
    g.fillRect(0, 0, w, w);
    g.strokeStyle = '#333';
    g.lineWidth = 1.2;
    g.beginPath();
    if (kind === 'diagonal') {
        g.moveTo(-2, w + 2);
        g.lineTo(w + 2, -2);
    } else {
        g.moveTo(w / 2, 0);
        g.lineTo(w / 2, w);
    }
    g.stroke();
    return g.createPattern(c, 'repeat');
}

// panels A: trace on hidden scales, 967 px wide at 24.9 px per pA
function traceChart(box, x0, baseY, trace, fuzz, core, extra) {
    const n = trace.length;
    const perSample = 967 / (n - 1);
    const perPA = 24.9;
    const datasets = [{
        data: trace.map((v, i) => ({ x: i, y: v })),
        borderColor: ink, borderWidth: 2, pointRadius: 0, tension: 0, clip: false
    }, {
        data: fuzz.map((v, i) => ({ x: i + 0.5, y: v })),
        borderColor: ink, borderWidth: 2, pointRadius: 0, tension: 0, clip: false
    }, {
        data: core.map((v, i) => ({ x: i * 10, y: v })),
        borderColor: ink, borderWidth: 8, pointRadius: 0, tension: 0, clip: false
    }];
    if (extra) datasets.push(extra);
    new Chart(addCanvas(box.left, box.top, box.w, box.h), {
        type: 'line',
        data: { datasets: datasets },
        options: {
            scales: {
                x: { type: 'linear', display: false, min: (box.left - x0) / perSample, max: (box.left + box.w - x0) / perSample },
                y: { type: 'linear', display: false, min: (baseY - box.top - box.h) / perPA, max: (baseY - box.top) / perPA }
            }
        }
    });
}

function barChart(plot, values, errs, fills, range, labels, minor, tickPad) {
    const m = { left: 130, top: 80, right: 60, bottom: 80 };
    new Chart(addCanvas(plot.left - m.left, plot.top - m.top, plot.right - plot.left + m.left + m.right, plot.bottom - plot.top + m.top + m.bottom), {
        type: 'bar',
        data: {
            labels: barLabels,
            datasets: [{
                data: values,
                backgroundColor: fills,
                borderColor: ink,
                borderWidth: axisWidth,
                borderSkipped: 'bottom',
                barPercentage: 0.51,
                categoryPercentage: 1
            }]
        },
        options: {
            layout: { padding: { top: m.top, right: m.right } },
            plugins: {
                minorTicks: { y: minor, yLen: 15 },
                errorBars: { errs: errs }
            },
            scales: {
                x: {
                    afterFit(s) { s.height = m.bottom; },
                    border: { width: axisWidth, color: ink },
                    grid: { display: false, drawTicks: false },
                    ticks: { display: false }
                },
                y: yAxis(m, 0, range, range / 2, 26, tickPad, labels)
            }
        },
        plugins: [minorTicks, errorBars]
    });
}

// A
const controlScaleBar = {
    data: scaleBarX.map((x, i) => ({ x: x, y: scaleBarY[i] })),
    borderColor: ink, borderWidth: 9, pointRadius: 0, tension: 0, clip: false,
    borderCapStyle: 'round', borderJoinStyle: 'miter'
};
traceChart({ left: 190, top: 70, w: 1040, h: 530 }, 245, 168, controlTrace, controlFuzz, controlCore, controlScaleBar);
traceChart({ left: 1500, top: 120, w: 1020, h: 320 }, 1527, 193, dpatTrace, dpatFuzz, dpatCore);
traceChart({ left: 2800, top: 120, w: 1007, h: 460 }, 2829, 191, washTrace, washFuzz, washCore);

// B
(function () {
    const plot = { left: 295, top: 643, right: 1828, bottom: 1289 };
    const m = { left: 130, top: 80, right: 150, bottom: 170 };
    new Chart(addCanvas(plot.left - m.left, plot.top - m.top, plot.right - plot.left + m.left + m.right, plot.bottom - plot.top + m.top + m.bottom), {
        type: 'bar',
        data: {
            datasets: [{
                data: freqPerBin.map((v, i) => ({ x: i * 10 + 5, y: v })),
                backgroundColor: ink,
                barPercentage: 1,
                categoryPercentage: 1
            }, {
                type: 'line',
                data: drugBarT.map((t, i) => ({ x: t, y: drugBarY[i] })),
                borderColor: ink, borderWidth: 4, pointRadius: 0
            }]
        },
        options: {
            layout: { padding: { top: m.top, right: m.right } },
            plugins: { minorTicks: { y: [5, 15, 25], yLen: 15, x: [450, 1350, 2250], xLen: 14 } },
            scales: { x: timeAxis(m), y: yAxis(m, 0, 30, 10, 26, 9) }
        },
        plugins: [minorTicks]
    });
})();

// C, D
barChart({ left: 2427, top: 643, right: 2890, bottom: 1290 }, freqMeans, freqErrs, ['#fff', ink], 5, freqTicks, [1.25, 3.75], 18);
barChart({ left: 3293, top: 642, right: 3755, bottom: 1290 }, normFreqMeans, normFreqErrs, ['#fff', hatchPattern('diagonal')], 1.2, normTicks, [0.3, 0.9], 12);

// E
(function () {
    const plot = { left: 295, top: 1591, right: 1828, bottom: 2238 };
    const m = { left: 130, top: 80, right: 150, bottom: 170 };
    const events = [];
    ampsPerBin.forEach((amps, i) => {
        amps.forEach(a => events.push({ x: i * 10 + 4, y: a }));
        (lateAmpsPerBin[i] || []).forEach(a => events.push({ x: i * 10 + 8, y: a }));
    });
    new Chart(addCanvas(plot.left - m.left, plot.top - m.top, plot.right - plot.left + m.left + m.right, plot.bottom - plot.top + m.top + m.bottom), {
        type: 'scatter',
        data: {
            datasets: [{
                data: events,
                pointStyle: 'triangle',
                pointRadius: 18.5,
                backgroundColor: '#fff',
                borderColor: ink,
                borderWidth: 1.5
            }]
        },
        options: {
            layout: { padding: { top: m.top, right: m.right } },
            plugins: { minorTicks: { y: [4, 12, 20, 28], yLen: 15, x: [450, 1350, 2250], xLen: 14 } },
            scales: { x: timeAxis(m), y: yAxis(m, 4, 32, 8, 26, 9) }
        },
        plugins: [minorTicks]
    });
})();

// F, G
barChart({ left: 2427, top: 1591, right: 2890, bottom: 2237 }, ampMeans, ampErrs, ['#fff', '#c0c0c0'], 10, ampTicks, [2.5, 7.5], 30);
barChart({ left: 3293, top: 1595, right: 3755, bottom: 2241 }, normAmpMeans, normAmpErrs, ['#fff', hatchPattern('vertical')], 1.2, normTicks, [0.3, 0.9], 12);

// letters and notes
addText('A', 4, 52, { bold: true, size: 60 });
addText('B', 3, 578, { bold: true, size: 60 });
addText('C', 2105, 578, { bold: true, size: 60 });
addText('D', 2964, 578, { bold: true, size: 60 });
addText('E', 3, 1580, { bold: true, size: 60 });
addText('F', 2105, 1580, { bold: true, size: 60 });
addText('G', 2964, 1580, { bold: true, size: 60 });

addText('0.5 sec', 217, 51);
addText('Control', 595, 66);
addText('8-OH-DPAT', 1829, 63);
addText('Wash', 3208, 66);
addText('10 pA', 145, 207, { rotate: -90, size: 62 });

addText('8-OH-DPAT', 400, 662);
addText('bin = 10 sec', 834, 799);
addText('(sec)', 1925, 1418);
addText('(sec)', 1925, 2371);
addText('*', 2749, 1003);
addText('***', 3585, 951);

addText('Frequency of mEPSCs (Hz)', 153, 965, { rotate: -90, size: 66 });
addText('Amplitude of mEPSCs (pA)', 153, 1907, { rotate: -90, size: 66 });
addText('Freq. of mEPSCs (Hz)', 2239, 977, { rotate: -90, size: 66 });
addText('Amp. of mEPSCs (pA)', 2239, 1924, { rotate: -90, size: 66 });
addText('Normalized mEPSCs frequency', 3103, 988, { rotate: -90, size: 66 });
addText('Normalized mEPSCs amplitude', 3100, 1943, { rotate: -90, size: 66 });

// rotated group labels under the bars
addText(barLabels[0], 2530, 1404, { rotate: -45, size: 50 });
addText(barLabels[1], 2755, 1426, { rotate: -45, size: 50 });
addText(barLabels[0], 3404, 1409, { rotate: -45, size: 50 });
addText(barLabels[1], 3646, 1426, { rotate: -45, size: 50 });
addText(barLabels[0], 2533, 2379, { rotate: -45, size: 50 });
addText(barLabels[1], 2761, 2387, { rotate: -45, size: 50 });
addText(barLabels[0], 3408, 2382, { rotate: -45, size: 50 });
addText(barLabels[1], 3650, 2387, { rotate: -45, size: 50 });
</script>
</body>
</html>
